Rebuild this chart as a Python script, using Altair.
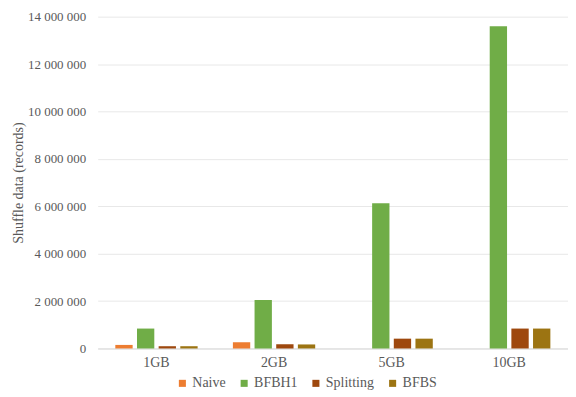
import altair as alt
import pandas as pd

sizes = ["1GB", "2GB", "5GB", "10GB"]
series = ["Naive", "BFBH1", "Splitting", "BFBS"]
naive = [150000, 260000, 0, 0]
bfbh1 = [840000, 2040000, 6130000, 13600000]
splitting = [95000, 180000, 414000, 840000]
bfbs = [95000, 170000, 414000, 840000]
colors = ["#ED7D31", "#70AD47", "#9E480E", "#9C7412"]
y_ticks = [0, 2000000, 4000000, 6000000, 8000000, 10000000, 12000000, 14000000]

rows = []
for name, vals in zip(series, [naive, bfbh1, splitting, bfbs]):
    for s, v in zip(sizes, vals):
        rows.append({"size": s, "series": name, "value": v})
df = pd.DataFrame(rows)

font = "Liberation Serif"
grey = "#595959"

chart = alt.Chart(df).mark_bar().encode(
    x=alt.X("size:N", sort=sizes, title=None,
            scale=alt.Scale(paddingInner=0.3, paddingOuter=0.15),
            axis=alt.Axis(labelAngle=0, ticks=False, domainColor="#d9d9d9",
                          labelFontSize=14, labelColor=grey,
                          labelPadding=7, grid=False)),
    xOffset=alt.XOffset("series:N", sort=series,
                        scale=alt.Scale(paddingInner=0.2, paddingOuter=0)),
    y=alt.Y("value:Q", title="Shuffle data (records)",
            scale=alt.Scale(domain=[0, 14000000], nice=False),
            axis=alt.Axis(values=y_ticks, ticks=False, domain=False,
                          gridColor="#e8e8e8", labelFontSize=13,
                          labelColor=grey, labelPadding=12,
                          labelExpr="replace(format(datum.value, ','), regexp(',', 'g'), ' ')",
                          titleFontSize=14, titleColor=grey,
                          titleFontWeight="normal", titlePadding=2)),
    color=alt.Color("series:N", sort=series,
                    scale=alt.Scale(domain=series, range=colors),
                    legend=alt.Legend(title=None, orient="none", direction="horizontal",
                                      legendX=78, legendY=361, symbolType="square",
                                      symbolSize=50, symbolStrokeWidth=0,
                                      labelFontSize=14, labelColor=grey,
                                      columnPadding=11, labelOffset=3)),
).properties(
    width=472, height=333,
    autosize=alt.AutoSizeParams(type="none"),
    padding={"left": 90, "right": 0, "top": 8, "bottom": 45}
).configure(
    font=font
).configure_axis(
    labelFont=font, titleFont=font
).configure_legend(
    labelFont=font
).configure_view(stroke=None)

chart.save("out.html", embed_options={"renderer": "svg", "actions": False})
